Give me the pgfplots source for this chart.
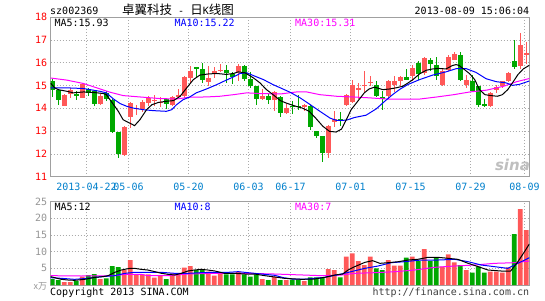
\documentclass[border=0pt]{standalone}
\usepackage{pgfplots}
\pgfplotsset{compat=1.18}
\usepackage{pgfplotstable}
\usepackage{fontspec}
\setmonofont{DejaVu Sans Mono}
\newfontfamily\cjk{Noto Sans CJK SC}
\newfontfamily\sinaf{DejaVu Sans}
\definecolor{upc}{RGB}{255,88,88}
\definecolor{dnc}{RGB}{0,168,0}
\definecolor{framec}{RGB}{160,160,160}
\definecolor{gridc}{RGB}{170,170,170}
\definecolor{datec}{RGB}{0,128,204}
\definecolor{mag}{RGB}{255,0,255}
\definecolor{volc}{RGB}{150,150,150}

% candles: i open high low close volume(x10k)
\pgfplotstableread{
i o h l c v
2 14.12 14.62 14.09 14.59 0.9
3 14.63 14.88 14.47 14.82 0.9
5 14.47 15.08 14.45 15.05 2.5
8 14.19 14.62 14.15 14.56 1.8
12 11.95 13.21 11.92 13.19 4.5
13 13.62 14.30 13.15 14.23 7.5
14 13.98 14.16 13.70 14.02 3.2
15 13.97 14.36 13.85 14.26 3.2
16 14.22 14.56 14.12 14.44 3.2
17 14.33 14.58 14.09 14.37 2.2
18 14.24 14.50 14.06 14.28 2.7
20 14.16 14.56 14.12 14.50 3.5
21 14.50 14.85 14.45 14.60 3.5
22 14.53 15.40 14.46 15.37 5.2
23 15.34 15.85 15.12 15.66 5.7
26 15.15 15.88 14.97 15.31 4.0
27 15.49 15.82 15.35 15.63 2.8
28 15.66 15.93 15.58 15.70 3.5
31 15.59 15.95 15.20 15.88 4.0
35 14.43 14.85 14.38 14.53 1.8
37 14.35 14.76 13.87 14.71 2.5
39 13.79 14.18 13.76 14.00 1.5
42 14.10 14.20 13.87 14.13 1.2
46 12.06 13.28 11.81 13.24 4.8
47 13.38 13.90 13.20 13.53 4.5
49 14.16 14.62 14.12 14.60 8.5
50 14.26 15.26 14.23 15.01 9.5
51 14.85 15.12 14.41 14.89 7.2
52 14.99 15.65 14.68 15.03 6.0
53 15.13 15.40 14.97 15.17 8.5
56 14.53 15.24 14.41 15.19 7.5
57 15.04 15.41 14.72 15.22 5.8
58 15.19 15.44 15.00 15.38 5.8
60 15.41 15.92 15.19 15.77 8.5
62 15.55 16.24 15.48 16.21 10.8
65 15.04 15.77 14.97 15.63 5.5
66 15.70 16.33 15.63 16.26 9.2
67 16.14 16.47 16.10 16.40 6.8
69 15.04 15.48 14.90 15.26 4.5
73 14.09 14.72 14.07 14.68 4.0
74 14.81 15.01 14.68 14.93 4.0
75 14.97 15.22 14.90 15.19 3.7
76 15.19 15.60 15.15 15.55 5.3
78 15.85 17.31 15.74 16.76 22.8
79 16.37 16.92 15.95 16.41 16.5
}\upT

\pgfplotstableread{
i o h l c v
0 15.19 15.27 14.50 14.79 1.8
1 14.79 14.82 14.16 14.35 1.5
4 14.63 14.76 14.37 14.54 1.2
6 14.84 14.88 14.55 14.69 3.0
7 14.74 14.76 14.12 14.20 3.3
9 14.68 14.78 14.33 14.40 2.0
10 14.37 14.40 12.92 12.96 5.7
11 12.98 12.98 11.80 12.00 5.4
19 14.40 14.45 13.95 14.17 1.8
24 15.82 15.83 15.38 15.76 4.5
25 15.73 16.00 15.12 15.26 4.8
29 15.70 15.92 15.12 15.53 3.2
30 15.49 15.60 15.09 15.38 3.2
32 15.88 15.90 15.20 15.27 3.2
33 15.27 15.60 14.90 14.97 2.5
34 14.97 14.98 14.16 14.43 3.2
36 14.53 14.68 14.20 14.35 1.5
38 14.50 14.53 13.60 13.79 1.5
40 14.12 14.31 13.76 14.06 1.6
41 14.12 14.60 13.91 14.06 1.5
43 14.12 14.16 13.03 13.16 2.3
44 13.01 13.01 12.69 12.79 2.3
45 12.79 12.79 11.66 12.06 2.3
48 13.53 13.82 13.24 13.44 2.3
54 15.04 15.19 14.50 14.53 5.0
55 14.50 14.75 13.91 14.41 4.5
59 15.38 15.74 15.26 15.26 8.2
61 15.99 16.06 15.26 15.51 7.2
63 16.14 16.21 15.63 15.96 7.2
64 15.92 16.26 15.26 15.41 8.2
68 16.32 16.46 15.19 15.23 6.0
70 15.19 15.48 14.75 14.78 3.7
71 14.97 14.97 14.04 14.13 5.5
72 14.18 14.43 14.04 14.14 3.7
77 16.10 16.98 15.74 15.80 15.3
}\dnT

\pgfplotstableread{
x y
-0.27 15.10
0.4 14.90
1 14.82
2.4 14.75
3.5 14.68
5.2 14.72
6.8 14.70
8.5 14.65
9 14.60
10 14.24
11 13.87
11.8 13.50
12.7 13.38
13.3 13.30
13.7 13.24
14.6 13.50
15.7 13.94
16.6 14.16
17.7 14.26
19 14.31
20.2 14.34
21.3 14.53
22.4 14.90
23.5 15.26
24.6 15.46
26 15.51
27.4 15.53
29 15.49
30.2 15.53
31 15.60
32.1 15.56
33.5 15.34
34.6 15.12
35.7 14.82
36.8 14.60
38 14.34
38.9 14.24
40.6 14.09
41.7 14.01
42.8 13.87
43.9 13.57
45.1 13.21
46.2 12.99
47.3 12.96
48.2 13.09
49 13.50
49.8 13.94
50.9 14.31
52 14.68
52.8 14.85
53.7 14.93
55.1 14.82
56.2 14.85
57.3 14.90
58.4 14.97
59.2 15.10
60.1 15.26
61.2 15.51
62.3 15.67
63.4 15.73
64.5 15.75
65.6 15.73
66.7 15.88
67.3 15.92
67.8 15.88
68.7 15.70
69.6 15.51
70.4 15.26
71.2 14.82
72.1 14.60
73.1 14.56
74.2 14.53
75 14.60
75.9 14.82
76.7 15.12
77.6 15.48
78.5 15.73
79.5 15.89
}\maFive

\pgfplotstableread{
x y
-0.27 14.90
2.4 14.90
5.2 14.87
7.9 14.75
9 14.68
10.2 14.41
11.3 14.21
12.4 14.09
13.5 14.01
15.2 13.94
16.8 13.90
19 13.87
19.9 13.94
20.7 14.16
21.8 14.38
22.9 14.50
24 14.68
25.7 14.85
27.4 15.04
29 15.24
30.2 15.38
31.3 15.53
32.4 15.56
33.5 15.44
35.2 15.26
36.8 15.04
38 14.90
39.6 14.71
41.3 14.46
43 14.16
44.6 13.87
46.3 13.57
47.4 13.47
49 13.48
50.4 13.60
52.3 13.70
54 13.98
55.4 14.31
56.8 14.62
58 14.85
59.3 15.05
61.2 15.26
63.4 15.46
65.6 15.60
67.3 15.74
69 15.74
70.6 15.58
72.3 15.30
74 15.17
75.6 15.12
76.7 15.01
77.8 15.05
79.5 15.20
}\maTen

\pgfplotstableread{
x y
-0.27 15.33
2.4 15.24
5.2 15.09
7.4 14.90
9.6 14.71
11.8 14.56
14.6 14.50
17.9 14.43
20.7 14.41
22.9 14.49
25.7 14.50
27.9 14.53
30.2 14.60
32.4 14.68
34.6 14.65
38 14.63
40.7 14.72
42.4 14.72
44.6 14.60
47.4 14.53
50.1 14.50
52.9 14.46
55.7 14.41
61.3 14.41
64.1 14.50
66.9 14.60
69.6 14.72
72.4 14.80
75.2 14.97
77.4 15.17
79.5 15.31
}\maThirty

\pgfplotstableread{
x y
-0.27 2.5
0.4 2.2
1.5 1.7
2.6 1.5
3.7 1.4
5.4 1.7
7.1 2.3
8.4 2.5
9.3 2.8
10.4 3.8
11.5 4.5
12.9 5.0
13.7 5.0
14.8 4.7
15.9 4.5
17.1 4.0
18.2 3.5
19.3 3.2
20.4 3.0
21.5 3.5
22.6 4.2
23.7 4.5
24.8 4.7
25.9 4.5
27.1 4.2
28.7 3.5
30.4 3.5
32.1 3.3
33.7 3.3
35.4 2.8
37.1 2.4
38.7 2.0
41.5 1.7
43.7 1.8
45.4 2.3
47.1 3.0
48.4 3.3
49.3 4.5
50.4 5.5
52.1 6.8
53.4 7.3
54.6 6.5
56 6.7
57.7 7.0
59.3 7.5
60.9 7.7
62.6 8.3
64.3 8.3
66 8.0
67.6 7.7
69.3 6.5
71 5.5
72.6 4.5
74.8 4.2
76.4 4.2
77.6 7.0
78.7 10.0
79.5 12.3
}\vmaFive

\pgfplotstableread{
x y
-0.27 2.2
1.5 2.0
3.7 1.7
5.9 2.0
8.2 2.5
10.4 2.8
12.1 3.5
13.7 3.8
18.2 3.8
20.4 3.5
22.6 3.5
24.8 3.7
27.1 3.8
29.3 3.8
31 4.0
32.6 3.7
34.8 3.3
37.1 2.9
38.5 2.2
40 1.8
42.6 1.8
45.4 2.3
48.2 3.3
49.8 4.0
52.1 5.0
54.3 5.7
56.5 6.7
58.7 7.0
61.5 7.5
64.3 7.5
67.1 7.7
69.3 7.0
71.5 6.0
73.7 5.5
75.9 5.0
77.6 6.5
79.5 8.2
}\vmaTen

\pgfplotstableread{
x y
-0.27 2.8
4.8 2.7
10.4 2.8
12.1 3.2
14.8 3.2
15.9 2.8
19.3 2.8
22.6 3.3
27.1 3.5
32.6 3.5
37 3.3
41.8 3.0
44.8 2.8
48.2 3.0
50.4 3.5
53.8 3.7
57.2 4.0
60.4 4.5
63.7 5.3
67.1 5.7
70.4 6.0
73.7 6.5
77.1 6.7
79.5 7.2
}\vmaThirty

\pgfplotsset{
  kaxis/.style={
    scale only axis, width=478.6pt, anchor=south west,
    xmin=-0.27, xmax=79.5,
    axis line style={draw=framec, line width=1pt},
    tick style={draw=none},
    xtick={5.7,12.7,22.7,32.7,39.7,49.7,59.7,69.7,78.7},
    grid=major,
    major grid style={draw=gridc, line width=0.8pt, dash pattern=on 1pt off 2pt},
    /pgf/number format/assume math mode=true,
    ticklabel style={font=\ttfamily\fontsize{10}{12}\selectfont},
  },
  wick/.style={draw=none, mark=none, error bars/.cd, y dir=both, y explicit,
    error mark=none, error bar style={draw=#1, line width=1pt}},
  body/.style={draw=none, mark=none, error bars/.cd, y dir=both, y explicit,
    error mark=none, error bar style={draw=#1, line width=4.7pt}},
}

\begin{document}
\begin{tikzpicture}[x=1pt,y=1pt]
\fill[white] (0,0) rectangle (545,300);
\path[use as bounding box] (0,0) rectangle (545,300);

% ---------- price panel ----------
\begin{axis}[kaxis,
  at={(50.7pt,123.3pt)}, height=159.5pt,
  ymin=11, ymax=18,
  ytick={11,12,13,14,15,16,17,18},
  yticklabels={11,12,13,14,15,16,17,18},
  yticklabel style={text=red},
  xticklabels={2013-04-22,05-06,05-20,06-03,06-17,07-01,07-15,07-29,08-09},
  xticklabel style={text=datec, yshift=-2.7pt},
]
\addplot[wick=upc] table[x=i, y expr={(\thisrow{h}+\thisrow{l})/2}, y error expr={(\thisrow{h}-\thisrow{l})/2}] {\upT};
\addplot[body=upc] table[x=i, y expr={(\thisrow{o}+\thisrow{c})/2}, y error expr={max(abs(\thisrow{c}-\thisrow{o})/2,0.024)}] {\upT};
\addplot[wick=dnc] table[x=i, y expr={(\thisrow{h}+\thisrow{l})/2}, y error expr={(\thisrow{h}-\thisrow{l})/2}] {\dnT};
\addplot[body=dnc] table[x=i, y expr={(\thisrow{o}+\thisrow{c})/2}, y error expr={max(abs(\thisrow{c}-\thisrow{o})/2,0.024)}] {\dnT};
\addplot[mag, line width=1pt, mark=none] table[x=x,y=y] {\maThirty};
\addplot[blue, line width=1pt, mark=none] table[x=x,y=y] {\maTen};
\addplot[black, line width=1pt, mark=none] table[x=x,y=y] {\maFive};
\end{axis}

% ---------- volume panel ----------
\begin{axis}[kaxis,
  at={(50.7pt,15pt)}, height=83.3pt,
  ymin=0, ymax=25,
  ytick={5,10,15,20,25},
  yticklabels={5,10,15,20,25},
  yticklabel style={text=volc},
  xticklabels={},
]
\addplot[ybar, bar width=4.7pt, bar shift=0pt, fill=upc, draw=none] table[x=i,y=v] {\upT};
\addplot[ybar, bar width=4.7pt, bar shift=0pt, fill=dnc, draw=none] table[x=i,y=v] {\dnT};
\addplot[mag, line width=1pt, mark=none] table[x=x,y=y] {\vmaThirty};
\addplot[blue, line width=1pt, mark=none] table[x=x,y=y] {\vmaTen};
\addplot[black, line width=1pt, mark=none] table[x=x,y=y] {\vmaFive};
\end{axis}

% ---------- texts ----------
\begin{scope}[every node/.style={inner sep=0pt, font=\ttfamily\fontsize{10}{12}\selectfont}]
\node[anchor=base west] at (50,285) {sz002369};
\node[anchor=base] at (178,285) {{\cjk\fontsize{12.5}{14}\selectfont 卓翼科技}\ - {\cjk\fontsize{12.5}{14}\selectfont 日}K{\cjk\fontsize{12.5}{14}\selectfont 线图}};
\node[anchor=base east] at (529.3,285) {2013-08-09 15:06:04};
\node[anchor=base west, text=black] at (54.3,273.3) {MA5:15.93};
\node[anchor=base west, text=blue] at (174.3,273.3) {MA10:15.22};
\node[anchor=base west, text=mag] at (295,273.3) {MA30:15.31};
\node[anchor=base west, text=black] at (54.3,90) {MA5:12};
\node[anchor=base west, text=blue] at (174.3,90) {MA10:8};
\node[anchor=base west, text=mag] at (295,90) {MA30:7};
\node[anchor=base west] at (50,5) {Copyright 2013 SINA.COM};
\node[anchor=base east, text=black!75] at (529.3,5) {http://finance.sina.com.cn};
\node[anchor=east, text=volc, font=\cjk\fontsize{9}{10}\selectfont] at (47.4,14) {x万};
\node[text=black!25, font=\sinaf\bfseries\itshape\fontsize{15}{16}\selectfont] at (512.5,135) {sina};
\end{scope}
\end{tikzpicture}
\end{document}
